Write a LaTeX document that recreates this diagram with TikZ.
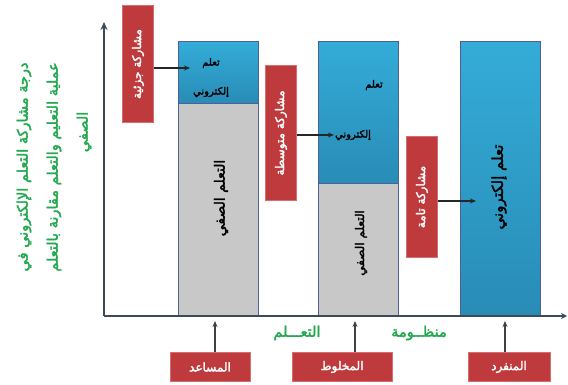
\documentclass[tikz,border=0pt]{standalone}
\usepackage{fontspec}
\usetikzlibrary{arrows.meta}
\TeXXeTstate=1
\newfontfamily\ar[Script=Arabic, FakeBold=2.5]{DejaVu Sans}
\newcommand\AR[1]{\beginR #1\endR}
\definecolor{labred}{RGB}{190,58,60}
\definecolor{labedge}{RGB}{215,110,110}
\definecolor{agreen}{RGB}{34,168,78}
\definecolor{btop}{RGB}{52,172,216}
\definecolor{bbot}{RGB}{40,140,182}
\definecolor{greyf}{RGB}{200,200,200}
\definecolor{edgeb}{RGB}{80,96,150}
\definecolor{axisc}{RGB}{60,74,90}
\tikzset{
  redlab/.style={fill=labred, draw=labedge, line width=0.8pt, text=white, inner sep=0pt,
    font=\ar\fontsize{12}{14}\selectfont},
  bluepart/.style={draw=edgeb, line width=1pt, top color=btop, bottom color=bbot, inner sep=0pt, anchor=north west},
  greypart/.style={draw=edgeb, line width=1pt, fill=greyf, inner sep=0pt, anchor=north west},
  bartext/.style={text=black, inner sep=1pt, font=\ar\fontsize{10}{12}\selectfont},
  bigtext/.style={text=black, inner sep=1pt, font=\ar\fontsize{15}{17}\selectfont},
  arr/.style={-{Stealth[length=6pt,width=5pt]}, line width=1.3pt, draw=black!85},
  uparr/.style={-{Stealth[length=6pt,width=5pt]}, line width=1.3pt, draw=black!75},
  axisline/.style={line width=1.6pt, draw=axisc},
  greentext/.style={text=agreen, inner sep=0pt, font=\ar\fontsize{14.5}{30}\selectfont}
}
\begin{document}
\begin{tikzpicture}[x=1pt,y=-1pt]
\useasboundingbox (0,0) rectangle (568,385);
% axes
\coordinate (O) at (104,316);
\coordinate (Ytop) at (104,22);
\coordinate (Xend) at (567,316);
% bars
\node[bluepart, minimum width=80pt, minimum height=62pt] (b1e) at (178,41) {};
\node[greypart, minimum width=80pt, minimum height=213pt] (b1c) at (178,103) {};
\node[bluepart, minimum width=80pt, minimum height=142pt] (b2e) at (318,41) {};
\node[greypart, minimum width=80pt, minimum height=133pt] (b2c) at (318,183) {};
\node[bluepart, minimum width=80pt, minimum height=275pt] (b3e) at (460,41) {};
\draw[axisline, -{Stealth[length=8pt,width=7pt]}] (O) -- (Ytop);
\draw[axisline, -{Stealth[length=6pt,width=6pt]}] (O) -- (Xend);
% texts in bars
\node[bartext] (t1a) at (211,63) {\AR{تعلم}};
\node[bartext] (t1b) at (211,92) {\AR{إلكتروني}};
\node[bartext] (t2a) at (374,85) {\AR{تعلم}};
\node[bartext] (t2b) at (353,135) {\AR{إلكتروني}};
\node[bigtext, rotate=90] (t3) at (499,187) {\AR{تعلم إلكتروني}};
\node[bartext, rotate=90, font=\ar\fontsize{14}{16}\selectfont] (c1) at (221,198) {\AR{التعلم الصفي}};
\node[bartext, rotate=90, font=\ar\fontsize{12}{14}\selectfont] (c2) at (361,243) {\AR{التعلم الصفي}};
% red side labels
\node[redlab, rotate=90, minimum width=117pt, minimum height=31pt] (l1) at (138,64) {\AR{مشاركة جزئية}};
\node[redlab, rotate=90, minimum width=135pt, minimum height=31pt] (l2) at (281,133) {\AR{مشاركة متوسطة}};
\node[redlab, rotate=90, minimum width=121pt, minimum height=31pt] (l3) at (422,197) {\AR{مشاركة تامة}};
\coordinate (e1) at (190,68);
\coordinate (e3) at (476,201);
\draw[arr] (l1.south |- e1) -- (e1);
\draw[arr] (l2.south |- t2b.west) -- (t2b.west);
\draw[arr] (l3.south |- e3) -- (e3);
% y axis title
\node[greentext, rotate=90, align=center] (ytitle) at (54,167)
  {\AR{درجة مشاركة التعلم الإلكتروني في}\\\AR{عملية التعليم والتعلم مقارنة بالتعلم}\\\hspace*{70pt}\AR{الصفي}};
% bottom labels
\node[redlab, minimum width=80pt, minimum height=29pt] (m1) at (210,367) {\AR{المساعد}};
\node[redlab, minimum width=100pt, minimum height=29pt] (m2) at (342,367) {\AR{المخلوط}};
\node[redlab, minimum width=82pt, minimum height=29pt] (m3) at (509,367) {\AR{المنفرد}};
\coordinate (p1) at (215,321);
\coordinate (p2) at (355,321);
\coordinate (p3) at (505,321);
\draw[uparr] (m1.north -| p1) -- (p1);
\draw[uparr] (m2.north -| p2) -- (p2);
\draw[uparr] (m3.north -| p3) -- (p3);
% green x caption
\node[greentext] (g1) at (297,333) {\AR{التعـــلم}};
\node[greentext] (g2) at (419,333) {\AR{منظــومة}};
\end{tikzpicture}
\end{document}
